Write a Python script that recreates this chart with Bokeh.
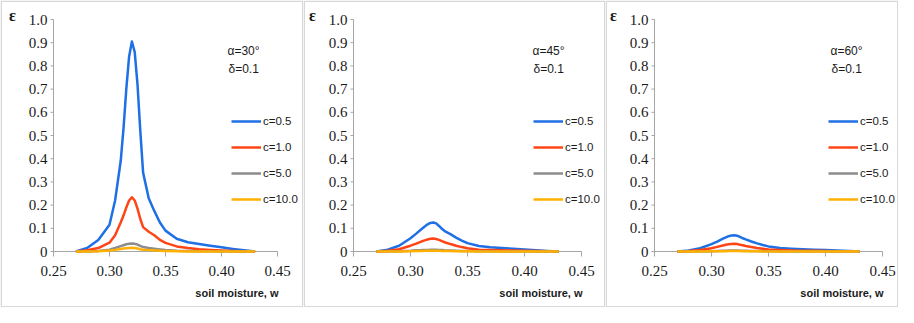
from bokeh.plotting import figure
from bokeh.layouts import row
from bokeh.models import (Range1d, Label, Legend, LegendItem, BoxAnnotation)
from bokeh.core.properties import value
from bokeh.embed import file_html
from bokeh.resources import INLINE

# ---------------- data ----------------
w = [0.27, 0.28, 0.29, 0.30, 0.305, 0.31, 0.3125, 0.315, 0.3175, 0.32, 0.3225, 0.325,
     0.3275, 0.33, 0.335, 0.34, 0.345, 0.35, 0.36, 0.37, 0.38, 0.39, 0.40, 0.41, 0.42, 0.43]

series_labels = ["c=0.5", "c=1.0", "c=5.0", "c=10.0"]
panel_alpha = ["α=30°", "α=45°", "α=60°"]
panel_delta = ["δ=0.1", "δ=0.1", "δ=0.1"]

a30_c05 = [0, 0.015, 0.05, 0.115, 0.22, 0.39, 0.53, 0.70, 0.84, 0.905, 0.86, 0.72,
           0.52, 0.34, 0.23, 0.175, 0.125, 0.09, 0.055, 0.04, 0.032, 0.025, 0.018, 0.011, 0.005, 0]
a30_c10 = [0, 0.005, 0.015, 0.038, 0.07, 0.125, 0.155, 0.19, 0.22, 0.234, 0.22, 0.185,
           0.14, 0.105, 0.085, 0.07, 0.05, 0.037, 0.022, 0.015, 0.01, 0.007, 0.004, 0.002, 0.001, 0]
a30_c50 = [0, 0, 0.002, 0.008, 0.015, 0.023, 0.027, 0.031, 0.033, 0.034, 0.033, 0.03,
           0.024, 0.019, 0.015, 0.012, 0.009, 0.006, 0.003, 0.002, 0.001, 0.001, 0, 0, 0, 0]
a30_c100 = [0, 0, 0.001, 0.004, 0.007, 0.011, 0.013, 0.014, 0.015, 0.016, 0.015, 0.013,
            0.01, 0.008, 0.006, 0.005, 0.003, 0.002, 0.001, 0, 0, 0, 0, 0, 0, 0]

a45_c05 = [0, 0.008, 0.025, 0.057, 0.077, 0.098, 0.108, 0.117, 0.123, 0.125, 0.121, 0.11,
           0.098, 0.088, 0.075, 0.06, 0.047, 0.036, 0.024, 0.018, 0.015, 0.012, 0.009, 0.005, 0.002, 0]
a45_c10 = [0, 0.003, 0.01, 0.025, 0.034, 0.044, 0.048, 0.052, 0.055, 0.056, 0.054, 0.05,
           0.045, 0.04, 0.032, 0.025, 0.019, 0.014, 0.008, 0.006, 0.005, 0.004, 0.003, 0.002, 0.001, 0]
a45_c50 = [0, 0, 0.001, 0.003, 0.005, 0.006, 0.007, 0.007, 0.008, 0.008, 0.008, 0.007,
           0.006, 0.005, 0.004, 0.003, 0.002, 0.002, 0.001, 0.001, 0, 0, 0, 0, 0, 0]
a45_c100 = [0, 0, 0, 0.001, 0.002, 0.002, 0.003, 0.003, 0.003, 0.003, 0.003, 0.003,
            0.002, 0.002, 0.002, 0.001, 0.001, 0.001, 0, 0, 0, 0, 0, 0, 0, 0]

a60_c05 = [0, 0.004, 0.014, 0.032, 0.043, 0.055, 0.061, 0.066, 0.069, 0.07, 0.068, 0.063,
           0.057, 0.052, 0.043, 0.035, 0.028, 0.022, 0.015, 0.012, 0.01, 0.008, 0.006, 0.004, 0.002, 0]
a60_c10 = [0, 0.002, 0.006, 0.014, 0.02, 0.026, 0.029, 0.031, 0.032, 0.033, 0.032, 0.029,
           0.027, 0.024, 0.019, 0.015, 0.012, 0.009, 0.006, 0.004, 0.003, 0.003, 0.002, 0.001, 0.001, 0]
a60_c50 = [0, 0, 0, 0.001, 0.002, 0.003, 0.003, 0.004, 0.004, 0.004, 0.004, 0.003,
           0.003, 0.003, 0.002, 0.002, 0.001, 0.001, 0, 0, 0, 0, 0, 0, 0, 0]
a60_c100 = [0, 0, 0, 0.001, 0.001, 0.001, 0.001, 0.002, 0.002, 0.002, 0.002, 0.002,
            0.001, 0.001, 0.001, 0.001, 0, 0, 0, 0, 0, 0, 0, 0, 0, 0]

x_ticks = [0.25, 0.30, 0.35, 0.40, 0.45]
x_tick_labels = ["0.25", "0.30", "0.35", "0.40", "0.45"]
y_ticks = [0, 0.1, 0.2, 0.3, 0.4, 0.5, 0.6, 0.7, 0.8, 0.9, 1.0]
y_tick_labels = ["0", "0.1", "0.2", "0.3", "0.4", "0.5", "0.6", "0.7", "0.8", "0.9", "1.0"]

x_title = "soil moisture, w"
y_title = "ε"

panels_data = [
    [a30_c05, a30_c10, a30_c50, a30_c100],
    [a45_c05, a45_c10, a45_c50, a45_c100],
    [a60_c05, a60_c10, a60_c50, a60_c100],
]

# ---------------- style / layout ----------------
colors = ["#1F6FE5", "#FF4515", "#8C8C8C", "#FFB000"]
AXIS_COLOR = "#A6A6A6"
BORDER_COLOR = "#7F7F7F"
TEXT_COLOR = "#1A1A1A"
SANS = "Liberation Sans"
SERIF = "Times New Roman, Liberation Serif, serif"

H = 307
TOP, BOTTOM = 19, 56          # px above y=1.0 and below y=0
geom = [  # width, px left of axis, px right of axis end, annotation x, legend x
    (303, 53, 26, 174, 178),
    (302, 50, 24, 179, 180),
    (293, 49, 16, 176, 174),
]


def make_panel(i):
    W, bl, br, ann_x, leg_x = geom[i]
    fw = W - bl - br
    fh = H - TOP - BOTTOM
    x0, x1 = x_ticks[0], x_ticks[-1]
    y0, y1 = y_ticks[0], y_ticks[-1]
    dxp = (x1 - x0) / fw        # data per pixel
    dyp = (y1 - y0) / fh

    p = figure(width=W, height=H, output_backend="svg", toolbar_location=None,
               x_range=Range1d(x0 - bl * dxp, x1 + br * dxp),
               y_range=Range1d(y0 - BOTTOM * dyp, y1 + TOP * dyp),
               x_axis_location=None, y_axis_location=None,
               min_border=0, background_fill_color="white",
               border_fill_color="white")
    p.outline_line_color = None
    p.grid.visible = False

    # axis lines
    p.segment(x0=[x0], y0=[y0], x1=[x1], y1=[y0], line_color=AXIS_COLOR, line_width=1)
    p.segment(x0=[x0], y0=[y0], x1=[x0], y1=[y1], line_color=AXIS_COLOR, line_width=1)
    # ticks
    p.segment(x0=x_ticks, y0=[y0] * len(x_ticks), x1=x_ticks,
              y1=[y0 - 5 * dyp] * len(x_ticks), line_color=AXIS_COLOR, line_width=1)
    p.segment(x0=[x0] * len(y_ticks), y0=y_ticks, x1=[x0 - 3 * dxp] * len(y_ticks),
              y1=y_ticks, line_color=AXIS_COLOR, line_width=1)
    # tick labels
    p.text(x=x_ticks, y=[y0] * len(x_ticks), text=x_tick_labels, y_offset=19,
           text_align="center", text_baseline="middle",
           text_font=value(SERIF), text_font_size="15px", text_color=TEXT_COLOR)
    p.text(x=[x0] * len(y_ticks), y=y_ticks, text=y_tick_labels, x_offset=-6,
           text_align="right", text_baseline="middle",
           text_font=value(SERIF), text_font_size="15px", text_color=TEXT_COLOR)

    # curves
    items = []
    for k, ys in enumerate(panels_data[i]):
        r = p.line(w, ys, line_color=colors[k], line_width=2.5, line_join="round")
        items.append(LegendItem(label=series_labels[k], renderers=[r]))

    leg = Legend(items=items, location=(bl + leg_x, BOTTOM + 42), padding=0, margin=0,
                 spacing=6, glyph_width=30, glyph_height=20, label_height=20,
                 label_standoff=2, border_line_color=None, background_fill_alpha=0,
                 label_text_font=SANS, label_text_font_size="11.5px",
                 label_text_color=TEXT_COLOR)
    p.add_layout(leg, "center")

    # annotations (screen units: from left / bottom of canvas)
    p.add_layout(Label(x=bl + ann_x, y=BOTTOM + 201, x_units="screen", y_units="screen",
                       text=panel_alpha[i], text_baseline="middle",
                       text_font=SANS, text_font_size="12px", text_color=TEXT_COLOR))
    p.add_layout(Label(x=bl + ann_x + 1, y=BOTTOM + 183, x_units="screen", y_units="screen",
                       text=panel_delta[i], text_baseline="middle",
                       text_font=SANS, text_font_size="12px", text_color=TEXT_COLOR))
    p.add_layout(Label(x=bl - 41, y=BOTTOM + 236, x_units="screen", y_units="screen",
                       text=y_title, text_align="center", text_baseline="middle",
                       text_font=SERIF, text_font_style="bold",
                       text_font_size="16px", text_color=TEXT_COLOR))
    p.add_layout(Label(x=bl + fw + 1, y=BOTTOM - 41, x_units="screen", y_units="screen",
                       text=x_title, text_align="right", text_baseline="middle",
                       text_font=SANS, text_font_style="bold",
                       text_font_size="11px", text_color=TEXT_COLOR))

    # panel border
    p.add_layout(BoxAnnotation(left=0.75, right=W - 0.75, top=0.75, bottom=H - 0.75,
                               left_units="canvas", right_units="canvas",
                               top_units="canvas", bottom_units="canvas",
                               fill_alpha=0, line_color=BORDER_COLOR, line_width=1.5))
    return p


layout = row(make_panel(0), make_panel(1), make_panel(2))
open("out.html", "w").write(file_html(layout, INLINE))
